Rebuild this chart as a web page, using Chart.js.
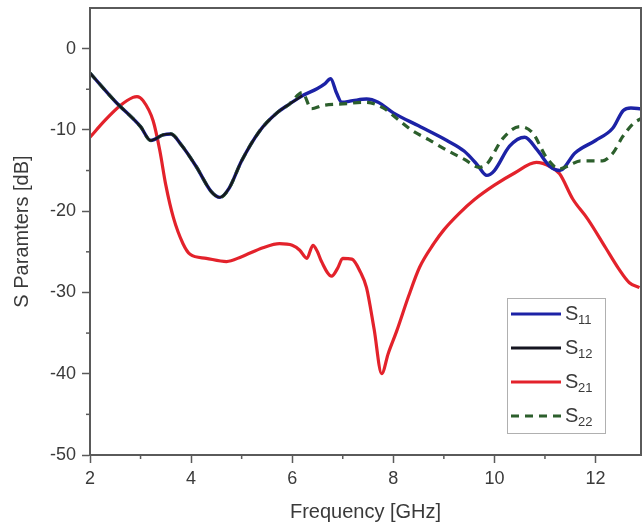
<!DOCTYPE html>
<html>
<head>
<meta charset="utf-8">
<script src="https://cdn.jsdelivr.net/npm/chart.js@4.4.1/dist/chart.umd.min.js"></script>
<style>
  html, body { margin: 0; padding: 0; background: #fff; }
  #wrap { width: 643px; height: 531px; }
</style>
</head>
<body>
<div id="wrap"><canvas id="sChart" width="643" height="531"></canvas></div>
<script>
// Frequenz-Stützpunkte und Werte je Kurve
const s11Freq = [2.0, 2.5, 3.0, 3.2, 3.45, 3.6, 3.8, 4.1, 4.4, 4.57, 4.75, 5.0, 5.36, 5.7, 5.95, 6.2, 6.5, 6.65, 6.76, 6.88, 6.98, 7.2, 7.47, 7.7, 8.0, 8.5, 9.06, 9.4, 9.65, 9.85, 10.0, 10.3, 10.6, 10.85, 11.1, 11.29, 11.6, 12.0, 12.34, 12.55, 12.7, 12.9];
const s11Db   = [-3.0, -6.5, -9.6, -11.3, -10.6, -10.5, -11.8, -14.5, -17.6, -18.3, -17.2, -13.8, -10.1, -7.9, -6.8, -5.8, -4.9, -4.3, -3.7, -5.5, -6.6, -6.4, -6.2, -6.6, -7.9, -9.5, -11.3, -12.6, -14.2, -15.6, -15.0, -12.0, -10.9, -12.5, -14.5, -15.0, -12.8, -11.3, -9.8, -7.6, -7.3, -7.4];

const s12Freq = [2.0, 2.5, 3.0, 3.2, 3.45, 3.6, 3.8, 4.1, 4.4, 4.57, 4.75, 5.0, 5.36, 5.7, 5.95, 6.2];
const s12Db   = [-3.0, -6.5, -9.6, -11.3, -10.6, -10.5, -11.8, -14.5, -17.6, -18.3, -17.2, -13.8, -10.1, -7.9, -6.8, -5.8];

const s21Freq = [2.0, 2.3, 2.6, 2.85, 2.93, 3.05, 3.25, 3.38, 3.5, 3.65, 3.84, 3.98, 4.3, 4.7, 5.0, 5.42, 5.75, 6.0, 6.15, 6.29, 6.41, 6.5, 6.58, 6.78, 6.9, 7.0, 7.18, 7.35, 7.47, 7.62, 7.77, 7.9, 8.07, 8.3, 8.52, 8.8, 9.0, 9.3, 9.6, 10.0, 10.4, 10.83, 11.1, 11.29, 11.55, 11.85, 12.2, 12.45, 12.67, 12.87];
const s21Db   = [-10.9, -8.8, -7.0, -6.0, -5.9, -6.4, -8.9, -12.5, -16.8, -20.8, -24.0, -25.3, -25.8, -26.2, -25.6, -24.5, -24.0, -24.2, -24.8, -25.8, -24.2, -25.0, -26.2, -28.0, -27.0, -25.8, -25.9, -27.5, -29.4, -34.5, -40.0, -37.5, -34.7, -30.5, -26.9, -24.0, -22.3, -20.3, -18.6, -16.8, -15.3, -14.0, -14.5, -15.4, -18.5, -21.0, -24.5, -27.0, -28.8, -29.4];

const s22Freq = [2.0, 2.5, 3.0, 3.2, 3.45, 3.6, 3.8, 4.1, 4.4, 4.57, 4.75, 5.0, 5.36, 5.7, 5.95, 6.2, 6.38, 6.6, 7.0, 7.47, 7.8, 8.07, 8.38, 8.7, 9.06, 9.4, 9.7, 9.85, 10.16, 10.5, 10.76, 11.03, 11.29, 11.5, 11.7, 12.14, 12.35, 12.53, 12.75, 12.9];
const s22Db   = [-3.0, -6.5, -9.6, -11.3, -10.6, -10.5, -11.8, -14.5, -17.6, -18.3, -17.2, -13.8, -10.1, -7.9, -6.8, -5.4, -7.4, -7.0, -6.8, -6.6, -7.3, -8.6, -10.1, -11.2, -12.5, -13.6, -14.6, -14.2, -11.1, -9.6, -10.4, -13.4, -14.8, -14.3, -13.8, -13.8, -12.8, -10.9, -9.2, -8.6];

// Achsenbeschriftung
const xTicks = [2, 4, 6, 8, 10, 12];
const xMinor = [3, 5, 7, 9, 11];
const yTicks = [-50, -40, -30, -20, -10, 0];
const yMinor = [-45, -35, -25, -15, -5];

const seriesNames = ['S11', 'S12', 'S21', 'S22'];
const seriesSubs  = ['11', '12', '21', '22'];

const axisGray = '#5a5a5a';
const textGray = '#3a3a3a';
const font = 'Liberation Sans, Arial, sans-serif';

function toPoints(xs, ys) {
    return xs.map((x, i) => ({ x: x, y: ys[i] }));
}

// Rahmen, Nebenstriche und Legende
const framePlugin = {
    id: 'frame',
    afterDraw(chart) {
        const ctx = chart.ctx;
        const a = chart.chartArea;
        const xs = chart.scales.x;
        const ys = chart.scales.y;
        ctx.save();
        ctx.strokeStyle = axisGray;
        ctx.lineWidth = 2;
        ctx.strokeRect(a.left, a.top, a.right - a.left, a.bottom - a.top);

        ctx.lineWidth = 1.5;
        xMinor.forEach(v => {
            const px = xs.getPixelForValue(v);
            ctx.beginPath();
            ctx.moveTo(px, a.bottom);
            ctx.lineTo(px, a.bottom + 4);
            ctx.stroke();
        });
        yMinor.forEach(v => {
            const py = ys.getPixelForValue(v);
            ctx.beginPath();
            ctx.moveTo(a.left, py);
            ctx.lineTo(a.left - 4, py);
            ctx.stroke();
        });

        // Legende
        const bx = a.right - 134, by = a.bottom - 157, bw = 98, bh = 135;
        ctx.fillStyle = '#fff';
        ctx.fillRect(bx, by, bw, bh);
        ctx.strokeStyle = '#b0b0b0';
        ctx.lineWidth = 1;
        ctx.strokeRect(bx + 0.5, by + 0.5, bw, bh);
        chart.data.datasets.forEach((ds, i) => {
            const y = by + 16 + i * 34;
            ctx.strokeStyle = ds.borderColor;
            ctx.lineWidth = 3;
            ctx.setLineDash(ds.borderDash || []);
            ctx.beginPath();
            ctx.moveTo(bx + 4, y);
            ctx.lineTo(bx + 54, y);
            ctx.stroke();
            ctx.setLineDash([]);
            ctx.fillStyle = textGray;
            ctx.textBaseline = 'middle';
            ctx.textAlign = 'left';
            ctx.font = '20px ' + font;
            ctx.fillText('S', bx + 58, y);
            ctx.font = '13px ' + font;
            ctx.fillText(seriesSubs[i], bx + 71, y + 6);
        });
        ctx.restore();
    }
};

const ctx = document.getElementById('sChart').getContext('2d');
const myChart = new Chart(ctx, {
    type: 'scatter',
    data: {
        datasets: [
            { label: seriesNames[0], data: toPoints(s11Freq, s11Db), borderColor: '#1c22a6', borderWidth: 3.4, order: 3 },
            { label: seriesNames[1], data: toPoints(s12Freq, s12Db), borderColor: '#151520', borderWidth: 2.2, order: 1 },
            { label: seriesNames[2], data: toPoints(s21Freq, s21Db), borderColor: '#e3222b', borderWidth: 3.2, order: 4 },
            { label: seriesNames[3], data: toPoints(s22Freq, s22Db), borderColor: '#2c5f2c', borderWidth: 3.2, borderDash: [8, 6], order: 2 }
        ]
    },
    options: {
        responsive: false,
        animation: false,
        showLine: true,
        elements: {
            point: { radius: 0, hoverRadius: 0 },
            line: { cubicInterpolationMode: 'monotone', fill: false }
        },
        layout: { padding: { top: 8, right: 2, left: 0, bottom: 0 } },
        plugins: {
            legend: { display: false },
            tooltip: { enabled: false }
        },
        scales: {
            x: {
                type: 'linear',
                min: 2,
                max: 12.9,
                afterFit(scale) { scale.height = 76; scale.paddingLeft = 0; scale.paddingRight = 0; },
                afterBuildTicks(scale) { scale.ticks = xTicks.map(v => ({ value: v })); },
                grid: { drawOnChartArea: false, drawTicks: true, tickLength: 8, tickColor: axisGray, tickWidth: 1.5 },
                border: { display: true, color: axisGray, width: 2 },
                ticks: { color: textGray, font: { size: 18, family: font }, padding: 5, maxRotation: 0 },
                title: { display: true, text: 'Frequency [GHz]', color: textGray, font: { size: 20, family: font }, padding: { top: 0, bottom: 7 } }
            },
            y: {
                min: -50,
                max: 5,
                afterFit(scale) { scale.width = 90; scale.paddingTop = 0; scale.paddingBottom = 0; },
                afterBuildTicks(scale) { scale.ticks = yTicks.map(v => ({ value: v })); },
                grid: { drawOnChartArea: false, drawTicks: true, tickLength: 8, tickColor: axisGray, tickWidth: 1.5 },
                border: { display: true, color: axisGray, width: 2 },
                ticks: { color: textGray, font: { size: 18, family: font }, padding: 6 },
                title: { display: true, text: 'S Paramters [dB]', color: textGray, font: { size: 20, family: font }, padding: { top: 10, bottom: 0 } }
            }
        }
    },
    plugins: [framePlugin]
});
</script>
</body>
</html>
